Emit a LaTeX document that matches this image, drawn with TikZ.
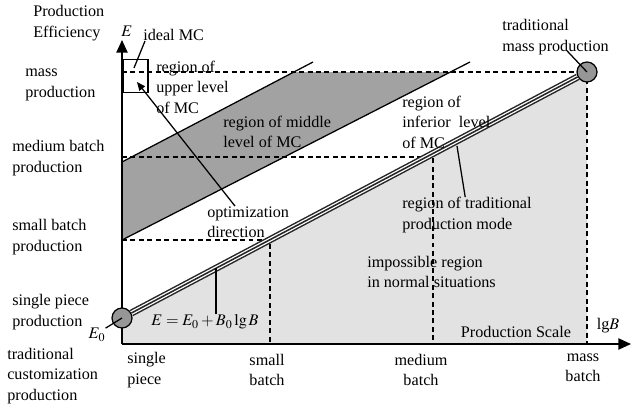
\documentclass[tikz,border=0pt]{standalone}
\usepackage{mathptmx}
\usepackage{fontspec}
\setmainfont{Liberation Serif}
\usetikzlibrary{arrows.meta, positioning}
\definecolor{lightfill}{RGB}{226,226,226}
\definecolor{darkfill}{RGB}{162,162,162}
\definecolor{spotgray}{RGB}{150,150,150}

\begin{document}
\begin{tikzpicture}[
    x=0.025cm, y=-0.025cm,
    txt/.style={font=\fontsize{11.5}{14.5}\selectfont, inner sep=0pt, align=left},
    ctxt/.style={txt, align=center},
    axisline/.style={line width=1.1pt, -{Triangle[length=9pt,width=8pt]}},
    guide/.style={line width=1pt, dash pattern=on 3.5pt off 2.5pt},
    lead/.style={line width=0.9pt},
    spot/.style={circle, draw, line width=0.9pt, fill=spotgray, minimum size=0.5cm, inner sep=0pt},
    tradout/.style={line width=5pt, black!85},
    tradmid/.style={line width=2.9pt, white},
    tradin/.style={line width=1.1pt, black!85}
]
\useasboundingbox (0,0) rectangle (632,408);

% regions
\fill[lightfill] (122,344) -- (122,318) -- (587,72) -- (587,344) -- cycle;
\fill[darkfill] (122,162) -- (294,72) -- (451,72) -- (122,240) -- cycle;

\coordinate (origin) at (122,344);
\coordinate (ytip) at (122,40);
\coordinate (xtip) at (631,344);
\coordinate (ymass) at (122,72);
\coordinate (ymed) at (122,157);
\coordinate (ysmall) at (122,240);
\coordinate (xsmall) at (270,344);
\coordinate (xmed) at (433,344);
\coordinate (xmass) at (587,344);

% levels
\draw[guide] (ymass) -- (xmass |- ymass) -- (xmass);
\draw[guide] (ymed) -- (xmed |- ymed) -- (xmed);
\draw[guide] (ysmall) -- (xsmall |- ysmall) -- (xsmall);

% MC region borders
\draw[lead] (122,162) -- (313,62);
\draw[lead] (122,240) -- (470,62);

\draw[axisline] (origin) -- (ytip);
\draw[axisline] (origin) -- (xtip);

\node[draw, lead, minimum width=0.625cm, minimum height=0.825cm, inner sep=0pt] (idealbox) at (135.5,76) {};

% traditional production line
\node[spot] (cbot) at (122,318) {};
\node[spot] (ctop) at (587,72) {};
\draw[tradout] (cbot) -- (ctop);
\draw[tradmid] (cbot) -- (ctop);
\draw[tradin] (cbot) -- (ctop);

% labels on the axes
\node[txt, anchor=west] (yname) at (33,23) {Production\\Efficiency};
\node[txt] (ylab) at (127,31) {$E$};
\node[txt, anchor=west] (lmass) at (25,85) {mass\\production};
\node[txt, anchor=west] (lmedium) at (12,158) {medium batch\\production};
\node[txt, anchor=west] (lsmall) at (12,237) {small batch\\production};
\node[txt, anchor=west] (lsingle) at (12,312) {single piece\\production};
\node[txt, anchor=west] (lcustom) at (7,376) {traditional\\customization\\production};
\node[txt] (e0) at (97,335) {$E_0$};
\node[txt, anchor=west] (xsingle) at (127,370) {single\\piece};
\node[ctxt] (xsmalllab) at (267,370) {small\\batch};
\node[ctxt] (xmedlab) at (421,370) {medium\\batch};
\node[ctxt] (xmasslab) at (583,368) {mass\\batch};
\node[txt] (xlab) at (608,326) {lg$B$};
\node[txt] (xname) at (516,332) {Production Scale};

% labels in the plane
\node[txt] (formula) at (205,322) {$E=E_0+B_0\lg B$};
\node[txt, anchor=west] (idealmc) at (143,35) {ideal MC};
\node[txt, anchor=west] (upper) at (156,87) {region of\\upper level\\of MC};
\node[txt, anchor=west] (middle) at (223,132) {region of middle\\level of MC};
\node[txt, anchor=west] (inferior) at (402,122) {region of\\inferior\ \ level\\of MC};
\node[txt, anchor=west] (tradmode) at (402,215) {region of traditional\\production mode};
\node[txt, anchor=west] (impossible) at (367,272) {impossible region\\in normal situations};
\node[txt, anchor=west] (optim) at (207,222) {optimization\\direction};
\node[txt, anchor=west] (tradmass) at (502,37) {traditional\\mass production};

% leaders
\coordinate (idealtip) at (134,68);
\coordinate (opthead) at (137,82);
\coordinate (fmtop) at (216,268);
\coordinate (tmtop) at (457,146);
\draw[lead] ([xshift=0.05cm]idealmc.south west) -- (idealtip);
\draw[lead, -{Triangle[length=6pt,width=5pt]}] ([xshift=0.7cm]optim.north west) -- (opthead);
\draw[lead] (fmtop |- formula.north) -- (fmtop);
\draw[lead] ([xshift=1.58cm]tradmode.north west) -- (tmtop);
\draw[lead] ([xshift=1.625cm,yshift=0.1cm]tradmass.south west) -- (ctop.center);
\draw[lead] (e0.north east) -- (cbot.center);

\end{tikzpicture}
\end{document}
